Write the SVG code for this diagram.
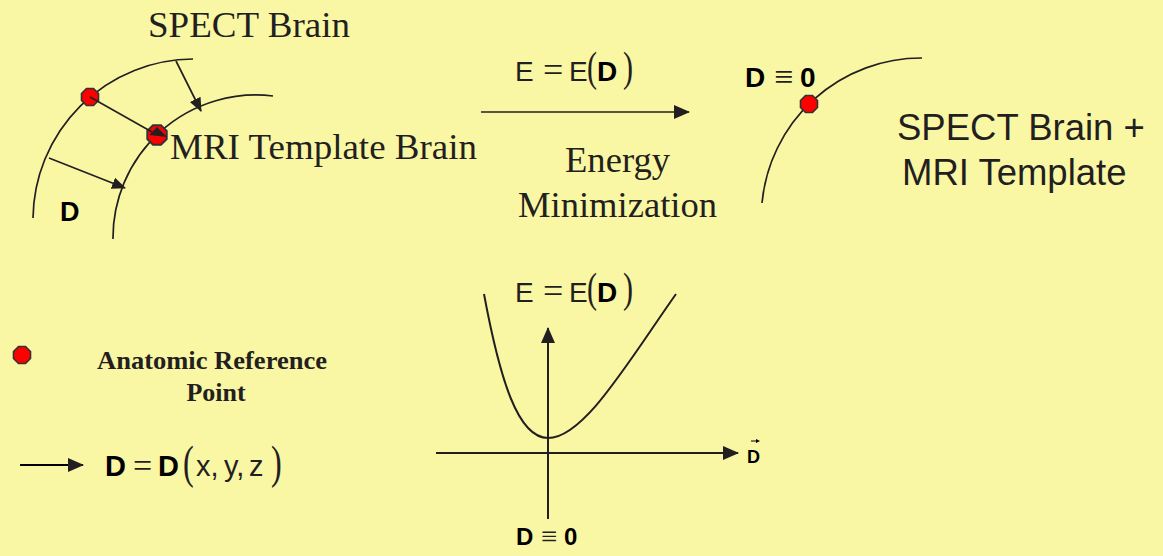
<svg xmlns="http://www.w3.org/2000/svg" width="1163" height="556" viewBox="0 0 1163 556">
<style>
.bg{fill:#FAF7A4}
.ln{fill:none;stroke:#231F20;stroke-width:1.7}
.ax{fill:none;stroke:#231F20;stroke-width:2}
.serif{font-family:"Liberation Serif","Times New Roman",serif;fill:#231F20}
.sans{font-family:"Liberation Sans",Arial,sans-serif;fill:#231F20}
.bd{font-family:"Liberation Sans",Arial,sans-serif;font-weight:bold;fill:#000}
.pt{fill:#FF0000;stroke:#333;stroke-width:1.6}
.head{fill:#231F20}
</style>
<defs>
<polygon id="oct" points="-3.5,-8.5 3.5,-8.5 8.5,-3.5 8.5,3.5 3.5,8.5 -3.5,8.5 -8.5,3.5 -8.5,-3.5"/>
<marker id="ah" markerUnits="userSpaceOnUse" markerWidth="16" markerHeight="16" viewBox="0 0 16 16" refX="15" refY="8" orient="auto">
<path d="M0,1 L16,8 L0,15 Z" class="head"/>
</marker>
<marker id="ahs" markerUnits="userSpaceOnUse" markerWidth="14" markerHeight="14" viewBox="0 0 14 14" refX="13" refY="7" orient="auto">
<path d="M0,1 L14,7 L0,13 Z" class="head"/>
</marker>
</defs>
<rect class="bg" x="0" y="0" width="1163" height="556"/>

<g id="spect-brain-arc"><path class="ln" d="M33,218 A161,161 0 0 1 193,59"/></g>
<g id="mri-brain-arc"><path class="ln" d="M113,239 A143,143 0 0 1 273,96"/></g>
<g id="merged-arc"><path class="ln" d="M762,203 A160,160 0 0 1 922,58"/></g>

<g id="labels-top">
<text class="serif" x="148" y="37" font-size="35" textLength="202" lengthAdjust="spacingAndGlyphs">SPECT Brain</text>
<text class="serif" x="170" y="159" font-size="35" textLength="307" lengthAdjust="spacingAndGlyphs">MRI Template Brain</text>
<text class="bd" x="60" y="221" font-size="27">D</text>
<text class="serif" x="565" y="172" font-size="36" textLength="105" lengthAdjust="spacingAndGlyphs">Energy</text>
<text class="serif" x="518" y="217" font-size="36" textLength="199" lengthAdjust="spacingAndGlyphs">Minimization</text>
<text class="sans" x="897" y="140" font-size="36.5">SPECT Brain +</text>
<text class="sans" x="902" y="185" font-size="36.5">MRI Template</text>
</g>

<g id="formula-top">
<text class="sans" x="515" y="81" font-size="28">E</text>
<text class="serif" x="543" y="82" font-size="36">=</text>
<text class="sans" x="569" y="81" font-size="28">E</text>
<text class="serif" transform="translate(587,81) scale(0.7,1)" font-size="43">(</text>
<text class="bd" x="597" y="81" font-size="28">D</text>
<text class="serif" transform="translate(623,81) scale(0.7,1)" font-size="43">)</text>
</g>

<g id="d-zero-top">
<text class="bd" x="745" y="87" font-size="28">D</text>
<text class="serif" x="774" y="88" font-size="34">≡</text>
<text class="bd" x="800" y="87" font-size="28">0</text>
</g>

<g id="connectors">
<line class="ln" x1="176" y1="61" x2="201" y2="111" marker-end="url(#ahs)"/>
<line class="ln" x1="49" y1="158" x2="125" y2="188" marker-end="url(#ahs)"/>
<line class="ln" x1="481" y1="112" x2="689" y2="112" marker-end="url(#ah)"/>
<line class="ax" x1="20" y1="465" x2="83" y2="465" marker-end="url(#ah)" style="stroke:#000"/>
</g>

<g id="points">
<use href="#oct" class="pt" x="90" y="97"/>
<use href="#oct" class="pt" transform="translate(157,135) scale(1.15)"/>
<use href="#oct" class="pt" x="809" y="104"/>
<use href="#oct" class="pt" x="22" y="355"/>
</g>

<g id="displacement-arrow">
<line class="ln" x1="90" y1="97" x2="152" y2="132"/>
<polygon class="head" points="149,135 157,127 167,137"/>
</g>

<g id="legend">
<text class="serif" x="212" y="369" font-size="26" font-weight="bold" text-anchor="middle" textLength="230" lengthAdjust="spacingAndGlyphs">Anatomic Reference</text>
<text class="serif" x="216" y="401" font-size="26" font-weight="bold" text-anchor="middle">Point</text>
<text class="bd" x="105" y="476" font-size="29">D</text>
<text class="serif" x="133" y="477" font-size="34">=</text>
<text class="bd" x="158" y="476" font-size="29">D</text>
<text class="serif" transform="translate(183,478) scale(0.75,1.08)" font-size="43">(</text>
<text class="sans" x="196" y="476" font-size="29">x,</text>
<text class="sans" x="224" y="476" font-size="29">y,</text>
<text class="sans" x="249" y="476" font-size="29">z</text>
<text class="serif" transform="translate(271,478) scale(0.75,1.08)" font-size="43">)</text>
</g>

<g id="energy-graph">
<line class="ax" x1="548" y1="519" x2="548" y2="328" marker-end="url(#ah)"/>
<line class="ax" x1="436" y1="453" x2="738" y2="453" marker-end="url(#ah)"/>
<path class="ax" d="M484,294 C500,380 518,438 548,438 C584,438 628,362 676,294"/>
<text class="sans" x="515" y="302" font-size="28">E</text>
<text class="serif" x="543" y="303" font-size="36">=</text>
<text class="sans" x="569" y="302" font-size="28">E</text>
<text class="serif" transform="translate(587,302) scale(0.7,1)" font-size="43">(</text>
<text class="bd" x="597" y="302" font-size="28">D</text>
<text class="serif" transform="translate(623,302) scale(0.7,1)" font-size="43">)</text>
<text class="bd" x="747" y="463" font-size="18">D</text>
<line x1="751" y1="441" x2="757" y2="441" stroke="#000" stroke-width="1"/>
<polygon points="760,441 756,439 756,443" fill="#000"/>
<text class="bd" x="516" y="545" font-size="24">D</text>
<text class="serif" x="541" y="546" font-size="29">≡</text>
<text class="bd" x="564" y="545" font-size="24">0</text>
</g>
</svg>
